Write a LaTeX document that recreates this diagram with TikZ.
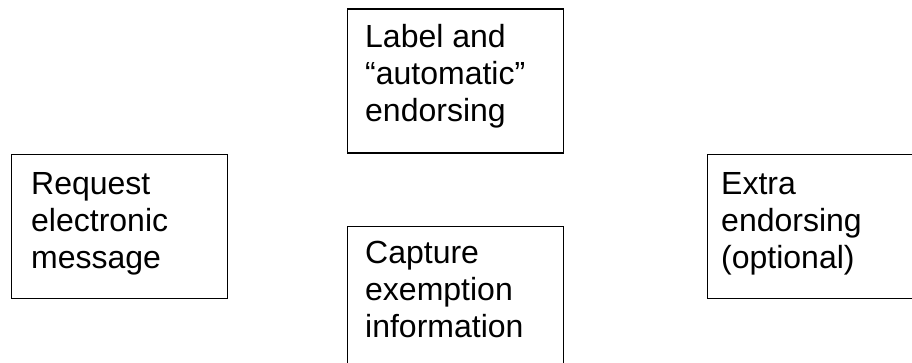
\documentclass[tikz,border=0pt]{standalone}
\usepackage{fontspec}
\setmainfont{Liberation Sans}
\begin{document}
\begin{tikzpicture}[x=1pt, y=-1pt,
  stepbox/.style={draw=black, line width=1.3pt, minimum width=216pt,
    minimum height=144pt, inner sep=0pt, anchor=north west},
  boxtext/.style={font=\fontsize{32}{37}\selectfont, align=left,
    inner sep=0pt, anchor=north west, text=black}]
  \useasboundingbox (0,0) rectangle (912,363);
  \clip (0,0) rectangle (912,363);
  % process boxes
  \node[stepbox] (req) at (11,154) {};
  \node[stepbox] (lab) at (347,8.5) {};
  \node[stepbox] (cap) at (347,226) {};
  \node[stepbox] (ext) at (707,154) {};
  % box captions
  \node[boxtext] (reqtext) at ([shift={(20pt,-18pt)}]req.north west)
    {Request\\electronic\\message};
  \node[boxtext] (labtext) at ([shift={(18pt,-16pt)}]lab.north west)
    {Label and\\“automatic”\\endorsing};
  \node[boxtext] (captext) at ([shift={(18pt,-15pt)}]cap.north west)
    {Capture\\exemption\\information};
  \node[boxtext] (exttext) at ([shift={(14pt,-18pt)}]ext.north west)
    {Extra\\endorsing\\(optional)};
\end{tikzpicture}
\end{document}
